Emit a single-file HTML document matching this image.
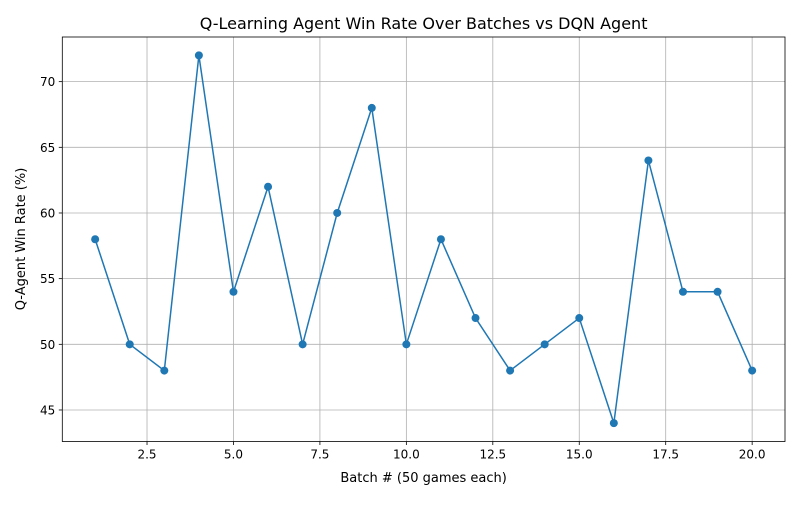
<!DOCTYPE html>
<html><head><meta charset="utf-8"><style>
body{margin:0;background:#fff;font-family:"Liberation Sans","DejaVu Sans",sans-serif}
svg text{font-family:"DejaVu Sans","Liberation Sans",sans-serif}
</style></head><body>
<svg id="chart" width="800" height="500" xmlns="http://www.w3.org/2000/svg">
<rect width="800" height="500" fill="#fff"/>
<g id="grid"></g>
<g id="axes"></g>
<g id="series"></g>
<rect x="62.3" y="37" width="722.7" height="404.5" fill="none" stroke="#000" stroke-width="0.8"/>
<text x="423.6" y="29" font-size="16" text-anchor="middle">Q-Learning Agent Win Rate Over Batches vs DQN Agent</text>
<text x="423.6" y="482" font-size="13" text-anchor="middle">Batch # (50 games each)</text>
<text transform="translate(25,239) rotate(-90)" font-size="13" text-anchor="middle">Q-Agent Win Rate (%)</text>
</svg>
<script>
const batches=[1,2,3,4,5,6,7,8,9,10,11,12,13,14,15,16,17,18,19,20];
const winRates=[58,50,48,72,54,62,50,60,68,50,58,52,48,50,52,44,64,54,54,48];
const xTicks=[2.5,5.0,7.5,10.0,12.5,15.0,17.5,20.0];
const xTickLabels=["2.5","5.0","7.5","10.0","12.5","15.0","17.5","20.0"];
const yTicks=[45,50,55,60,65,70];
const yTickLabels=["45","50","55","60","65","70"];
const L=62.3,R=785,T=37,B=441.5;
const xmin=0.05,xmax=20.95,ymin=42.6,ymax=73.4;
const sx=v=>L+(v-xmin)/(xmax-xmin)*(R-L);
const sy=v=>B-(v-ymin)/(ymax-ymin)*(B-T);
const NS="http://www.w3.org/2000/svg";
const grid=document.getElementById('grid'),axes=document.getElementById('axes'),ser=document.getElementById('series');
function mk(t,a,p){const e=document.createElementNS(NS,t);for(const k in a)e.setAttribute(k,a[k]);p.appendChild(e);return e;}
xTicks.forEach((v,i)=>{const x=sx(v);
const g=mk('line',{x1:x,x2:x,y1:T,y2:B,stroke:'#b0b0b0','stroke-width':0.8},grid);


mk('line',{x1:x,x2:x,y1:B,y2:B+3.5,stroke:'#000','stroke-width':0.8},axes);
const t=mk('text',{x:x,y:B+17,'font-size':12,'text-anchor':'middle'},axes);t.textContent=xTickLabels[i];

});
yTicks.forEach((v,i)=>{const y=sy(v);
const g=mk('line',{x1:L,x2:R,y1:y,y2:y,stroke:'#b0b0b0','stroke-width':0.8},grid);


mk('line',{x1:L-3.5,x2:L,y1:y,y2:y,stroke:'#000','stroke-width':0.8},axes);
const t=mk('text',{x:L-7,y:y+4.5,'font-size':12,'text-anchor':'end'},axes);t.textContent=yTickLabels[i];

});
const pts=batches.map((b,i)=>sx(b)+','+sy(winRates[i])).join(' ');
const pl=mk('polyline',{points:pts,fill:'none',stroke:'#1f77b4','stroke-width':1.5},ser);


batches.forEach((b,i)=>{const c=mk('circle',{cx:sx(b),cy:sy(winRates[i]),r:4,fill:'#1f77b4'},ser);

});
</script>
</body></html>
